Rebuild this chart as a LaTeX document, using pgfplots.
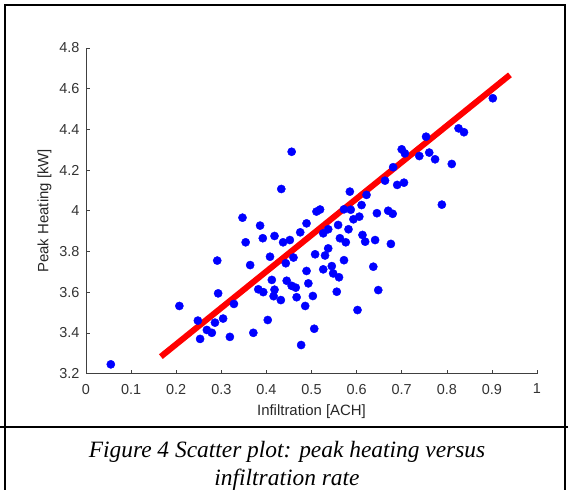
\documentclass[border=0pt]{standalone}
\usepackage{pgfplots}
\pgfplotsset{compat=1.18}
\usepackage{pgfplotstable}
\usepackage{fontspec}
\setmainfont{Liberation Sans}
\newfontfamily\capfont{Liberation Serif}
\pgfplotstableread{
x y
0.055 3.245
0.207 3.532
0.248 3.460
0.253 3.370
0.268 3.414
0.279 3.400
0.286 3.450
0.291 3.755
0.293 3.594
0.304 3.470
0.319 3.380
0.328 3.542
0.347 3.966
0.354 3.845
0.364 3.733
0.371 3.400
0.382 3.614
0.386 3.927
0.392 3.865
0.393 3.600
0.403 3.463
0.408 3.774
0.412 3.660
0.418 3.612
0.416 3.580
0.432 3.561
0.433 4.107
0.418 3.876
0.437 3.845
0.443 3.742
0.445 3.656
0.452 3.856
0.456 4.290
0.456 3.631
0.460 3.770
0.465 3.622
0.467 3.575
0.475 3.894
0.477 3.340
0.486 3.532
0.489 3.938
0.489 3.704
0.493 3.643
0.503 3.581
0.506 3.420
0.508 3.786
0.511 3.996
0.519 4.006
0.526 3.889
0.526 3.712
0.530 3.780
0.537 3.909
0.537 3.815
0.545 3.728
0.548 3.692
0.556 3.602
0.559 3.930
0.561 3.673
0.563 3.865
0.572 4.007
0.572 3.757
0.576 3.845
0.582 3.909
0.585 4.094
0.587 4.005
0.593 3.958
0.602 3.512
0.606 3.971
0.611 4.028
0.613 3.881
0.619 3.848
0.622 4.078
0.637 3.725
0.641 3.856
0.645 3.988
0.648 3.610
0.663 4.148
0.670 4.000
0.680 3.985
0.676 3.837
0.681 4.214
0.690 4.127
0.700 4.302
0.705 4.138
0.707 4.282
0.739 4.269
0.754 4.364
0.761 4.286
0.774 4.253
0.789 4.030
0.811 4.230
0.826 4.405
0.838 4.386
0.902 4.553
}\pts
\begin{document}
\begin{tikzpicture}[x=1bp,y=1bp]
\useasboundingbox (0,0) rectangle (568,-490);
\draw[line width=2bp] (5,-495) -- (5,-5) -- (565,-5) -- (565,-495);
\draw[line width=2bp] (0,-427) -- (568,-427);
\node[font=\capfont\itshape\fontsize{23.5}{28}\selectfont, align=center, inner sep=0pt] at (287,-466) {Figure 4 Scatter plot: peak heating versus\\infiltration rate};
\begin{axis}[
  at={(86bp,-373.5bp)}, anchor=south west,
  scale only axis, width=451bp, height=325.5bp,
  xmin=0, xmax=1, ymin=3.2, ymax=4.8,
  axis x line*=bottom, axis y line*=left,
  axis line style={black!75, -},
  tick style={black!75, line width=0.6bp},
  tick align=inside, major tick length=4bp,
  xtick={0,0.1,0.2,0.3,0.4,0.5,0.6,0.7,0.8,0.9,1},
  ytick={3.2,3.4,3.6,3.8,4,4.2,4.4,4.6,4.8},
  /pgf/number format/assume math mode=true,
  ticklabel style={font=\fontsize{14.5}{16}\selectfont, text=black!80},
  xticklabel style={yshift=-7bp},
  yticklabel style={xshift=-3bp},
  label style={font=\fontsize{15}{17}\selectfont, text=black!85},
  xlabel={Infiltration [ACH]},
  ylabel={Peak Heating [kW]},
  xlabel style={yshift=-4bp},
  ylabel style={yshift=1bp},
  clip=false,
]
\addplot[only marks, mark=*, mark size=4.1bp, mark options={draw=blue, fill=blue}] table[x=x, y=y] {\pts};
\addplot[red, line width=6bp, line cap=butt] coordinates {(0.166,3.283) (0.940,4.668)};
\end{axis}
\end{tikzpicture}
\end{document}
